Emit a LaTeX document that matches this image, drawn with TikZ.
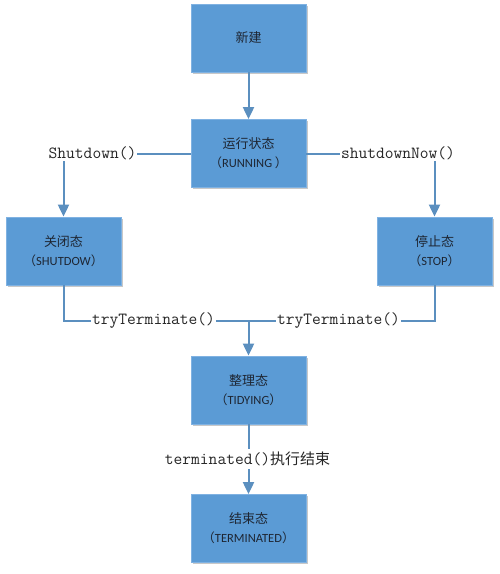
\documentclass[tikz,border=0pt]{standalone}
\usepackage{fontspec}
\setmainfont{Carlito}
\newfontfamily\cjk{Noto Sans CJK SC}
\usetikzlibrary{arrows.meta}
\definecolor{boxfill}{HTML}{5B9BD5}
\definecolor{boxedge}{HTML}{80B2E2}
\definecolor{boxshadow}{HTML}{C8C8C8}
\definecolor{linec}{HTML}{5B8FBF}
\definecolor{txt}{HTML}{1E2633}
\newcommand{\lpar}{{\cjk （}}
\newcommand{\rpar}{{\cjk ）}}
\tikzset{
  statebox/.style={draw=boxedge, line width=0.8pt, fill=boxfill, minimum width=115pt, minimum height=68pt,
    inner sep=0pt, align=center, text=txt, font=\fontsize{12.5pt}{19pt}\selectfont,
    preaction={fill=boxshadow, draw=none, transform canvas={shift={(1.5pt,-1.5pt)}}}},
  lbl/.style={inner sep=1pt, text=black!85, font=\ttfamily\fontsize{17pt}{19pt}\selectfont},
  conn/.style={draw=linec, line width=2pt},
  arr/.style={conn, -{Triangle[width=11pt,length=12pt]}},
}
\newcommand{\zh}[1]{{\cjk\fontsize{13pt}{19pt}\selectfont #1}}
\begin{document}
\begin{tikzpicture}[x=1pt,y=-1pt]
\useasboundingbox[fill=white] (0,0) rectangle (499,574);
\node[statebox] (new) at (248.5,38) {\zh{新建}};
\node[statebox] (run) at (248.5,153.5) {\zh{运行状态}\\\lpar RUNNING \rpar};
\node[statebox] (shut) at (63.5,251) {\zh{关闭态}\\\lpar SHUTDOW\rpar};
\node[statebox] (stop) at (434.5,251) {\zh{停止态}\\\lpar STOP\rpar};
\node[statebox] (tidy) at (248.5,390) {\zh{整理态}\\\lpar TIDYING\rpar};
\node[statebox] (term) at (248.5,528.5) {\zh{结束态}\\\lpar TERMINATED\rpar};
\node[lbl] (lshut) at (92.5,153.5) {Shutdown()};
\node[lbl] (lnow) at (398,153.5) {shutdownNow()};
\node[lbl] (ltry1) at (153.5,321) {tryTerminate()};
\node[lbl] (ltry2) at (338.5,321) {tryTerminate()};
\node[lbl, inner sep=3pt] (lterm) at (247.5,459) {terminated(){\cjk\fontsize{15pt}{17pt}\selectfont 执行结束}};
\coordinate (j) at (248.5,321);
\draw[arr] (new) -- (run);
\draw[conn] (run.west) -- (run.west -| lshut.east);
\draw[conn] (run.east) -- (run.east -| lnow.west);
\draw[arr] (shut.north |- lshut.south) -- (shut.north);
\draw[arr] (stop.north |- lnow.south) -- (stop.north);
\draw[conn] (shut.south) |- (ltry1.west);
\draw[conn] (stop.south) |- (ltry2.east);
\draw[conn] (ltry1.east) -- (j) -- (ltry2.west);
\draw[arr] (j) -- (tidy.north);
\draw[conn] (tidy.south) -- (lterm.north -| tidy.south);
\draw[arr] (lterm.south -| tidy.south) -- (term.north);
\end{tikzpicture}
\end{document}
